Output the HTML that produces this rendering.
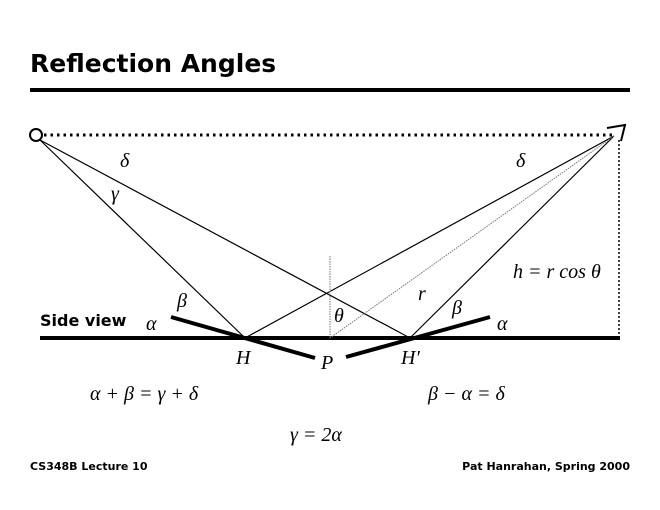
<!DOCTYPE html>
<html><head><meta charset="utf-8"><style>
body{margin:0;background:#fff;width:660px;height:510px;overflow:hidden}
svg{display:block}
.b{font-family:"DejaVu Sans","Liberation Sans",sans-serif;font-weight:bold}
.m{font-family:"Liberation Serif",serif;font-style:italic;font-size:20px}
</style></head><body>
<svg width="660" height="510" viewBox="0 0 660 510">
<text x="30" y="72" class="b" font-size="25">Reflection Angles</text>
<rect x="30" y="88" width="600" height="4" fill="#000"/>
<circle cx="36" cy="135" r="6" fill="none" stroke="#000" stroke-width="2"/>
<line x1="44" y1="135" x2="612" y2="135" stroke="#000" stroke-width="3" stroke-dasharray="2.5 4"/>
<polyline points="607,128 625,125 621,141" fill="none" stroke="#000" stroke-width="2"/>
<line x1="619" y1="140" x2="619" y2="338" stroke="#000" stroke-width="1.5" stroke-dasharray="2 2"/>
<line x1="40" y1="338" x2="620" y2="338" stroke="#000" stroke-width="4"/>
<g stroke="#000" stroke-width="1.2">
<line x1="40" y1="140" x2="245" y2="338"/>
<line x1="40" y1="140" x2="410" y2="338"/>
<line x1="614" y1="136" x2="245" y2="338"/>
<line x1="614" y1="136" x2="410" y2="338"/>
</g>
<line x1="614" y1="136" x2="330" y2="338" stroke="#777" stroke-width="1" stroke-dasharray="1.5 1"/>
<line x1="330" y1="256" x2="330" y2="338" stroke="#777" stroke-width="1" stroke-dasharray="1.5 1"/>
<line x1="171" y1="317" x2="315" y2="358" stroke="#000" stroke-width="4"/>
<line x1="346" y1="357" x2="490" y2="317" stroke="#000" stroke-width="4"/>
<text x="40" y="326" class="b" font-size="16">Side view</text>
<g class="m">
<text x="120" y="167">δ</text>
<text x="111" y="200">γ</text>
<text x="516" y="167">δ</text>
<text x="177" y="307">β</text>
<text x="146" y="330">α</text>
<text x="452" y="314">β</text>
<text x="497" y="330">α</text>
<text x="334" y="322">θ</text>
<text x="418" y="300">r</text>
<text x="513" y="278">h = r cos θ</text>
<text x="236" y="364">H</text>
<text x="321" y="369">P</text>
<text x="401" y="364">H′</text>
<text x="90" y="400">α + β = γ + δ</text>
<text x="428" y="400">β − α = δ</text>
<text x="290" y="441">γ = 2α</text>
</g>
<text x="30" y="470" class="b" font-size="11">CS348B Lecture 10</text>
<text x="630" y="470" class="b" font-size="11" text-anchor="end">Pat Hanrahan, Spring 2000</text>
</svg>
</body></html>
